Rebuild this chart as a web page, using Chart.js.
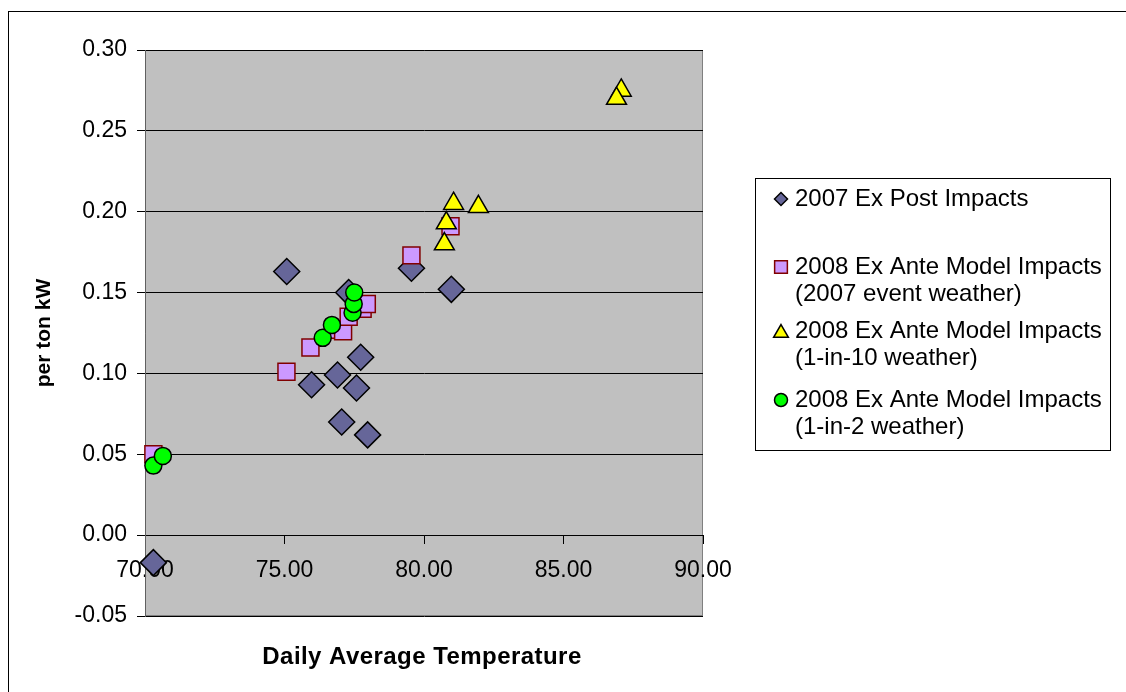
<!DOCTYPE html>
<html>
<head>
<meta charset="utf-8">
<script src="https://cdn.jsdelivr.net/npm/chart.js@4.4.1/dist/chart.umd.min.js"></script>
<style>
html,body{margin:0;padding:0;background:#fff;}
#wrap{width:1126px;height:692px;position:relative;}
</style>
</head>
<body>
<div id="wrap"><canvas id="c" width="1126" height="692"></canvas></div>
<script>
// Data
const expost2007X = [70.3, 75.08, 75.97, 76.9, 77.05, 77.3, 77.58, 77.73, 77.98, 79.55, 80.98];
const expost2007Y = [-0.017, 0.163, 0.093, 0.099, 0.070, 0.150, 0.091, 0.110, 0.062, 0.165, 0.152];

const exante2007wX = [70.3, 75.07, 75.93, 76.9, 77.1, 77.3, 77.8, 77.95, 79.55, 80.95];
const exante2007wY = [0.050, 0.101, 0.116, 0.127, 0.126, 0.135, 0.140, 0.143, 0.173, 0.191];

const exante1in10X = [87.07, 86.9, 81.06, 81.95, 80.8, 80.73];
const exante1in10Y = [0.275, 0.270, 0.205, 0.203, 0.193, 0.180];

const exante1in2X = [70.3, 70.64, 76.37, 76.7, 77.44, 77.48, 77.5];
const exante1in2Y = [0.043, 0.049, 0.122, 0.130, 0.1375, 0.143, 0.150];

const seriesLabels = [
  ["2007 Ex Post Impacts"],
  ["2008 Ex Ante Model Impacts", "(2007 event weather)"],
  ["2008 Ex Ante Model Impacts", "(1-in-10 weather)"],
  ["2008 Ex Ante Model Impacts", "(1-in-2 weather)"]
];
const xTitle = "Daily Average Temperature";
const yTitle = "per ton kW";

function pts(xs, ys){ return xs.map((x,i)=>({x:x, y:ys[i]})); }

const FONT = "'Liberation Sans', Arial, sans-serif";

const bgPlugin = {
  id: 'bg',
  beforeDraw(chart){
    const {ctx, chartArea:a} = chart;
    ctx.save();
    ctx.fillStyle = '#fff';
    ctx.fillRect(0,0,chart.width,chart.height);
    ctx.fillStyle = '#C0C0C0';
    ctx.fillRect(a.left, a.top, a.right-a.left, a.bottom-a.top);
    ctx.strokeStyle = '#808080';
    ctx.lineWidth = 1;
    ctx.strokeRect(a.left+0.5, a.top+0.5, a.right-a.left-1, a.bottom-a.top-1);
    // outer frame
    ctx.strokeStyle = '#000';
    ctx.strokeRect(8.5, 11.5, 1200, 800);
    ctx.restore();
  },
  afterDraw(chart){
    const {ctx, chartArea:a} = chart;
    ctx.save();
    // x title
    ctx.fillStyle = '#000';
    ctx.font = "bold 24px " + FONT;
    try { ctx.letterSpacing = '0.45px'; } catch(e) {}
    ctx.textAlign = 'center';
    ctx.textBaseline = 'middle';
    ctx.fillText(xTitle, 422, 657);
    try { ctx.letterSpacing = '0px'; } catch(e) {}
    // legend
    const lx = 755.5, ly = 178.5, lw = 355, lh = 272;
    ctx.strokeStyle = '#000';
    ctx.lineWidth = 1;
    ctx.fillStyle = '#fff';
    ctx.fillRect(lx, ly, lw, lh);
    ctx.strokeRect(lx, ly, lw, lh);
    const rowsY = [199, 267, 331, 400];
    ctx.font = "24px " + FONT;
    ctx.textAlign = 'left';
    [0,1,2,3].forEach((di, k) => {
      const ds = chart.data.datasets[di];
      const y = rowsY[k];
      ctx.save();
      ctx.fillStyle = ds.backgroundColor;
      ctx.strokeStyle = ds.borderColor;
      ctx.lineWidth = 1.5;
      Chart.helpers.drawPoint(ctx, {pointStyle: ds.pointStyle, radius: ds.legendRadius, borderWidth:1.5}, 781, y + (ds.pointStyle === 'triangle' ? 2 : 0));
      ctx.restore();
      ctx.fillStyle = '#000';
      seriesLabels[di].forEach((line, j) => {
        ctx.fillText(line, 795, y + j*27);
      });
    });
    ctx.restore();
  }
};

new Chart(document.getElementById('c'), {
  type: 'scatter',
  data: {
    datasets: [
      { label: seriesLabels[0].join(' '), data: pts(expost2007X, expost2007Y), pointStyle: 'rectRot', pointRadius: 13, pointHoverRadius: 13, backgroundColor: '#666699', borderColor: '#000', borderWidth: 1.5, order: 4, clip: false, legendRadius: 6.5 },
      { label: seriesLabels[1].join(' '), data: pts(exante2007wX, exante2007wY), pointStyle: 'rect', pointRadius: 12, pointHoverRadius: 12, backgroundColor: '#CC99FF', borderColor: '#800000', borderWidth: 1.5, order: 3, clip: false, legendRadius: 9 },
      { label: seriesLabels[2].join(' '), data: pts(exante1in10X, exante1in10Y), pointStyle: 'triangle', pointRadius: 11.5, pointHoverRadius: 11.5, backgroundColor: '#FFFF00', borderColor: '#000', borderWidth: 1.5, order: 2, clip: false, legendRadius: 8.5 },
      { label: seriesLabels[3].join(' '), data: pts(exante1in2X, exante1in2Y), pointStyle: 'circle', pointRadius: 8.5, pointHoverRadius: 8.5, backgroundColor: '#00FF00', borderColor: '#000', borderWidth: 1.5, order: 1, clip: false, legendRadius: 6.5 }
    ]
  },
  options: {
    responsive: false,
    animation: false,
    events: [],
    layout: { padding: { left: 10, top: 50, right: 423, bottom: 76 } },
    plugins: { legend: { display: false }, tooltip: { enabled: false } },
    scales: {
      x: {
        type: 'linear',
        position: { y: 0 },
        min: 70, max: 90,
        ticks: { stepSize: 5, color: '#000', font: { family: FONT, size: 23 }, padding: 14, maxRotation: 0, autoSkip: false, callback: v => v.toFixed(2) },
        grid: { drawOnChartArea: false, drawTicks: true, tickLength: 8, color: '#000' },
        border: { color: '#000', width: 1 },
        afterFit(s){ s.height = 0; }
      },
      y: {
        type: 'linear',
        min: -0.05, max: 0.30,
        ticks: { stepSize: 0.05, color: '#000', font: { family: FONT, size: 23 }, padding: 10, callback: v => (Math.round(v*100)/100).toFixed(2) },
        grid: { color: '#000', lineWidth: 1, drawTicks: true, tickLength: 8 },
        border: { color: '#606060', width: 1 },
        title: { display: true, text: yTitle, color: '#000', font: { family: FONT, size: 21, weight: 'bold' }, padding: { top: 22, bottom: 0 } },
        afterFit(s){ s.width = 135; }
      }
    }
  },
  plugins: [bgPlugin]
});
</script>
</body>
</html>
